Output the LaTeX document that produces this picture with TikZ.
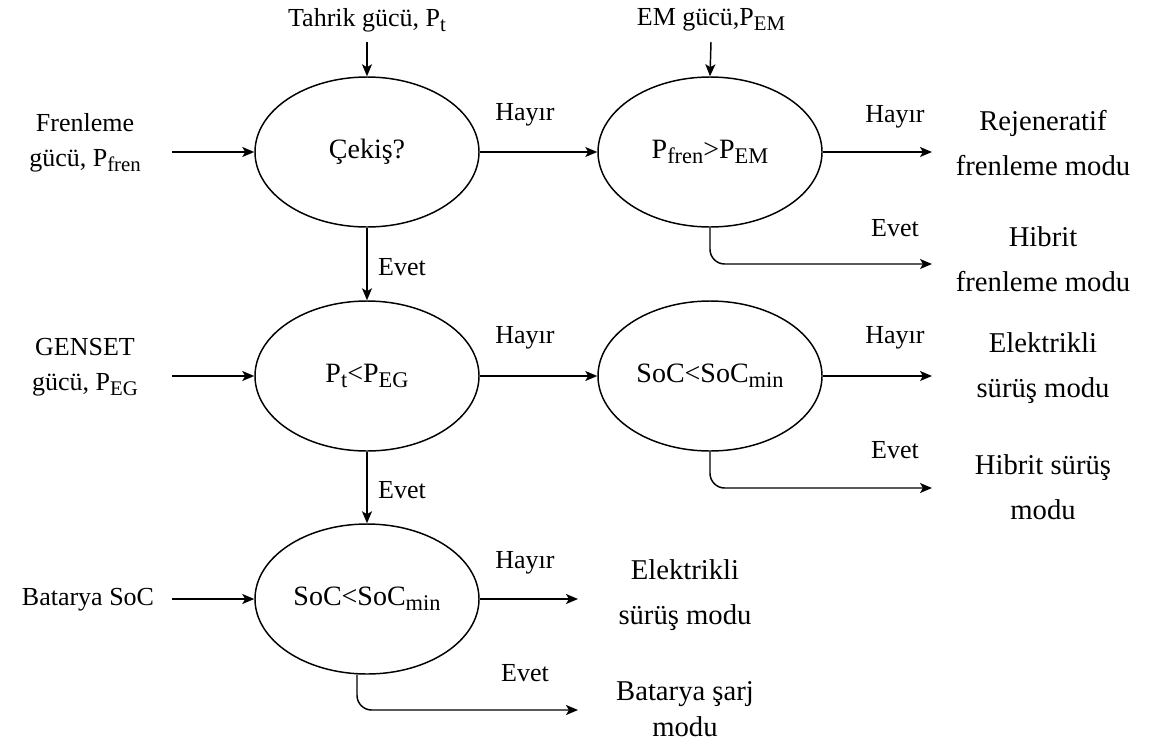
\documentclass[tikz,border=0pt]{standalone}
\usepackage{fontspec}
\setmainfont{Liberation Serif}
\usetikzlibrary{shapes.geometric,arrows.meta}
\newcommand{\dsub}[1]{\raisebox{-0.42ex}{\scalebox{0.8}{#1}}}
\begin{document}
\begin{tikzpicture}[x=0.75pt,y=-0.75pt,
  dec/.style={ellipse,draw,line width=1.1pt,minimum width=168pt,minimum height=112.5pt,inner sep=0pt,font=\fontsize{21pt}{25pt}\selectfont},
  lbl/.style={inner sep=0pt,font=\fontsize{19.5pt}{24pt}\selectfont},
  inp/.style={inner sep=0pt,align=center,font=\fontsize{19.5pt}{26.25pt}\selectfont},
  outp/.style={inner sep=0pt,align=center,font=\fontsize{21.5pt}{33.75pt}\selectfont},
  arr/.style={line width=1.1pt,-{Stealth[length=9pt,width=7.5pt,inset=2.2pt]}},
  elbowarr/.style={arr,rounded corners=11pt}]
\useasboundingbox (0,0) rectangle (1152,743);
% decision ellipses
\node[dec] (e1) at (367,152) {Çekiş?};
\node[dec] (e2) at (710,152) {P\dsub{fren}>P\dsub{EM}};
\node[dec] (e3) at (367,376) {P\dsub{t}<P\dsub{EG}};
\node[dec] (e4) at (710,376) {SoC<SoC\dsub{min}};
\node[dec] (e5) at (367,599) {SoC<SoC\dsub{min}};
% inputs
\node[inp] (tp) at (367,20) {Tahrik gücü, P\dsub{t}};
\node[inp] (em) at (711,20) {EM gücü,P\dsub{EM}};
\node[inp] (fr) at (85,143) {Frenleme\\gücü, P\dsub{fren}};
\node[inp] (ge) at (85,367) {GENSET\\gücü, P\dsub{EG}};
\node[inp] (bs) at (88,600) {Batarya SoC};
\coordinate (tp0) at (367,42);
\coordinate (em0) at (711,42);
\coordinate (fr0) at (172,152);
\coordinate (ge0) at (172,376);
\coordinate (bs0) at (172,599);
% outputs
\node[outp] (o1) at (1043,143) {Rejeneratif\\frenleme modu};
\node[outp] (o2) at (1043,259) {Hibrit\\frenleme modu};
\node[outp] (o3) at (1043,368) {Elektrikli\\sürüş modu};
\node[outp] (o4) at (1043,487) {Hibrit sürüş\\modu};
\node[outp] (o5) at (685,595) {Elektrikli\\sürüş modu};
\node[outp,font=\fontsize{21.5pt}{27pt}\selectfont] (o6) at (685,709) {Batarya şarj\\modu};
\coordinate (a1) at (932,152);
\coordinate (a2) at (932,264);
\coordinate (a3) at (932,376);
\coordinate (a4) at (932,488);
\coordinate (a5) at (578,599);
\coordinate (a6) at (578,710);
% labels
\node[lbl] (h1) at (525,115) {Hayır};
\node[lbl] (h2) at (895,117) {Hayır};
\node[lbl] (h3) at (525,338) {Hayır};
\node[lbl] (h4) at (895,338) {Hayır};
\node[lbl] (h5) at (525,563) {Hayır};
\node[lbl] (v1) at (402,267) {Evet};
\node[lbl] (v2) at (895,228) {Evet};
\node[lbl] (v3) at (402,490) {Evet};
\node[lbl] (v4) at (895,450) {Evet};
\node[lbl] (v5) at (525,673) {Evet};
% connectors
\draw[arr] (tp0) -- (e1.north);
\draw[arr] (em0) -- (e2.north);
\draw[arr] (fr0) -- (e1.west);
\draw[arr] (ge0) -- (e3.west);
\draw[arr] (bs0) -- (e5.west);
\draw[arr] (e1.east) -- (e2.west);
\draw[arr] (e3.east) -- (e4.west);
\draw[arr] (e1.south) -- (e3.north);
\draw[arr] (e3.south) -- (e5.north);
\draw[arr] (e2.east) -- (a1);
\draw[arr] (e4.east) -- (a3);
\draw[arr] (e5.east) -- (a5);
\draw[elbowarr] (e2.south) |- (a2);
\draw[elbowarr] (e4.south) |- (a4);
\draw[elbowarr] ([xshift=-7.5pt]e5.south) |- (a6);
\end{tikzpicture}
\end{document}
